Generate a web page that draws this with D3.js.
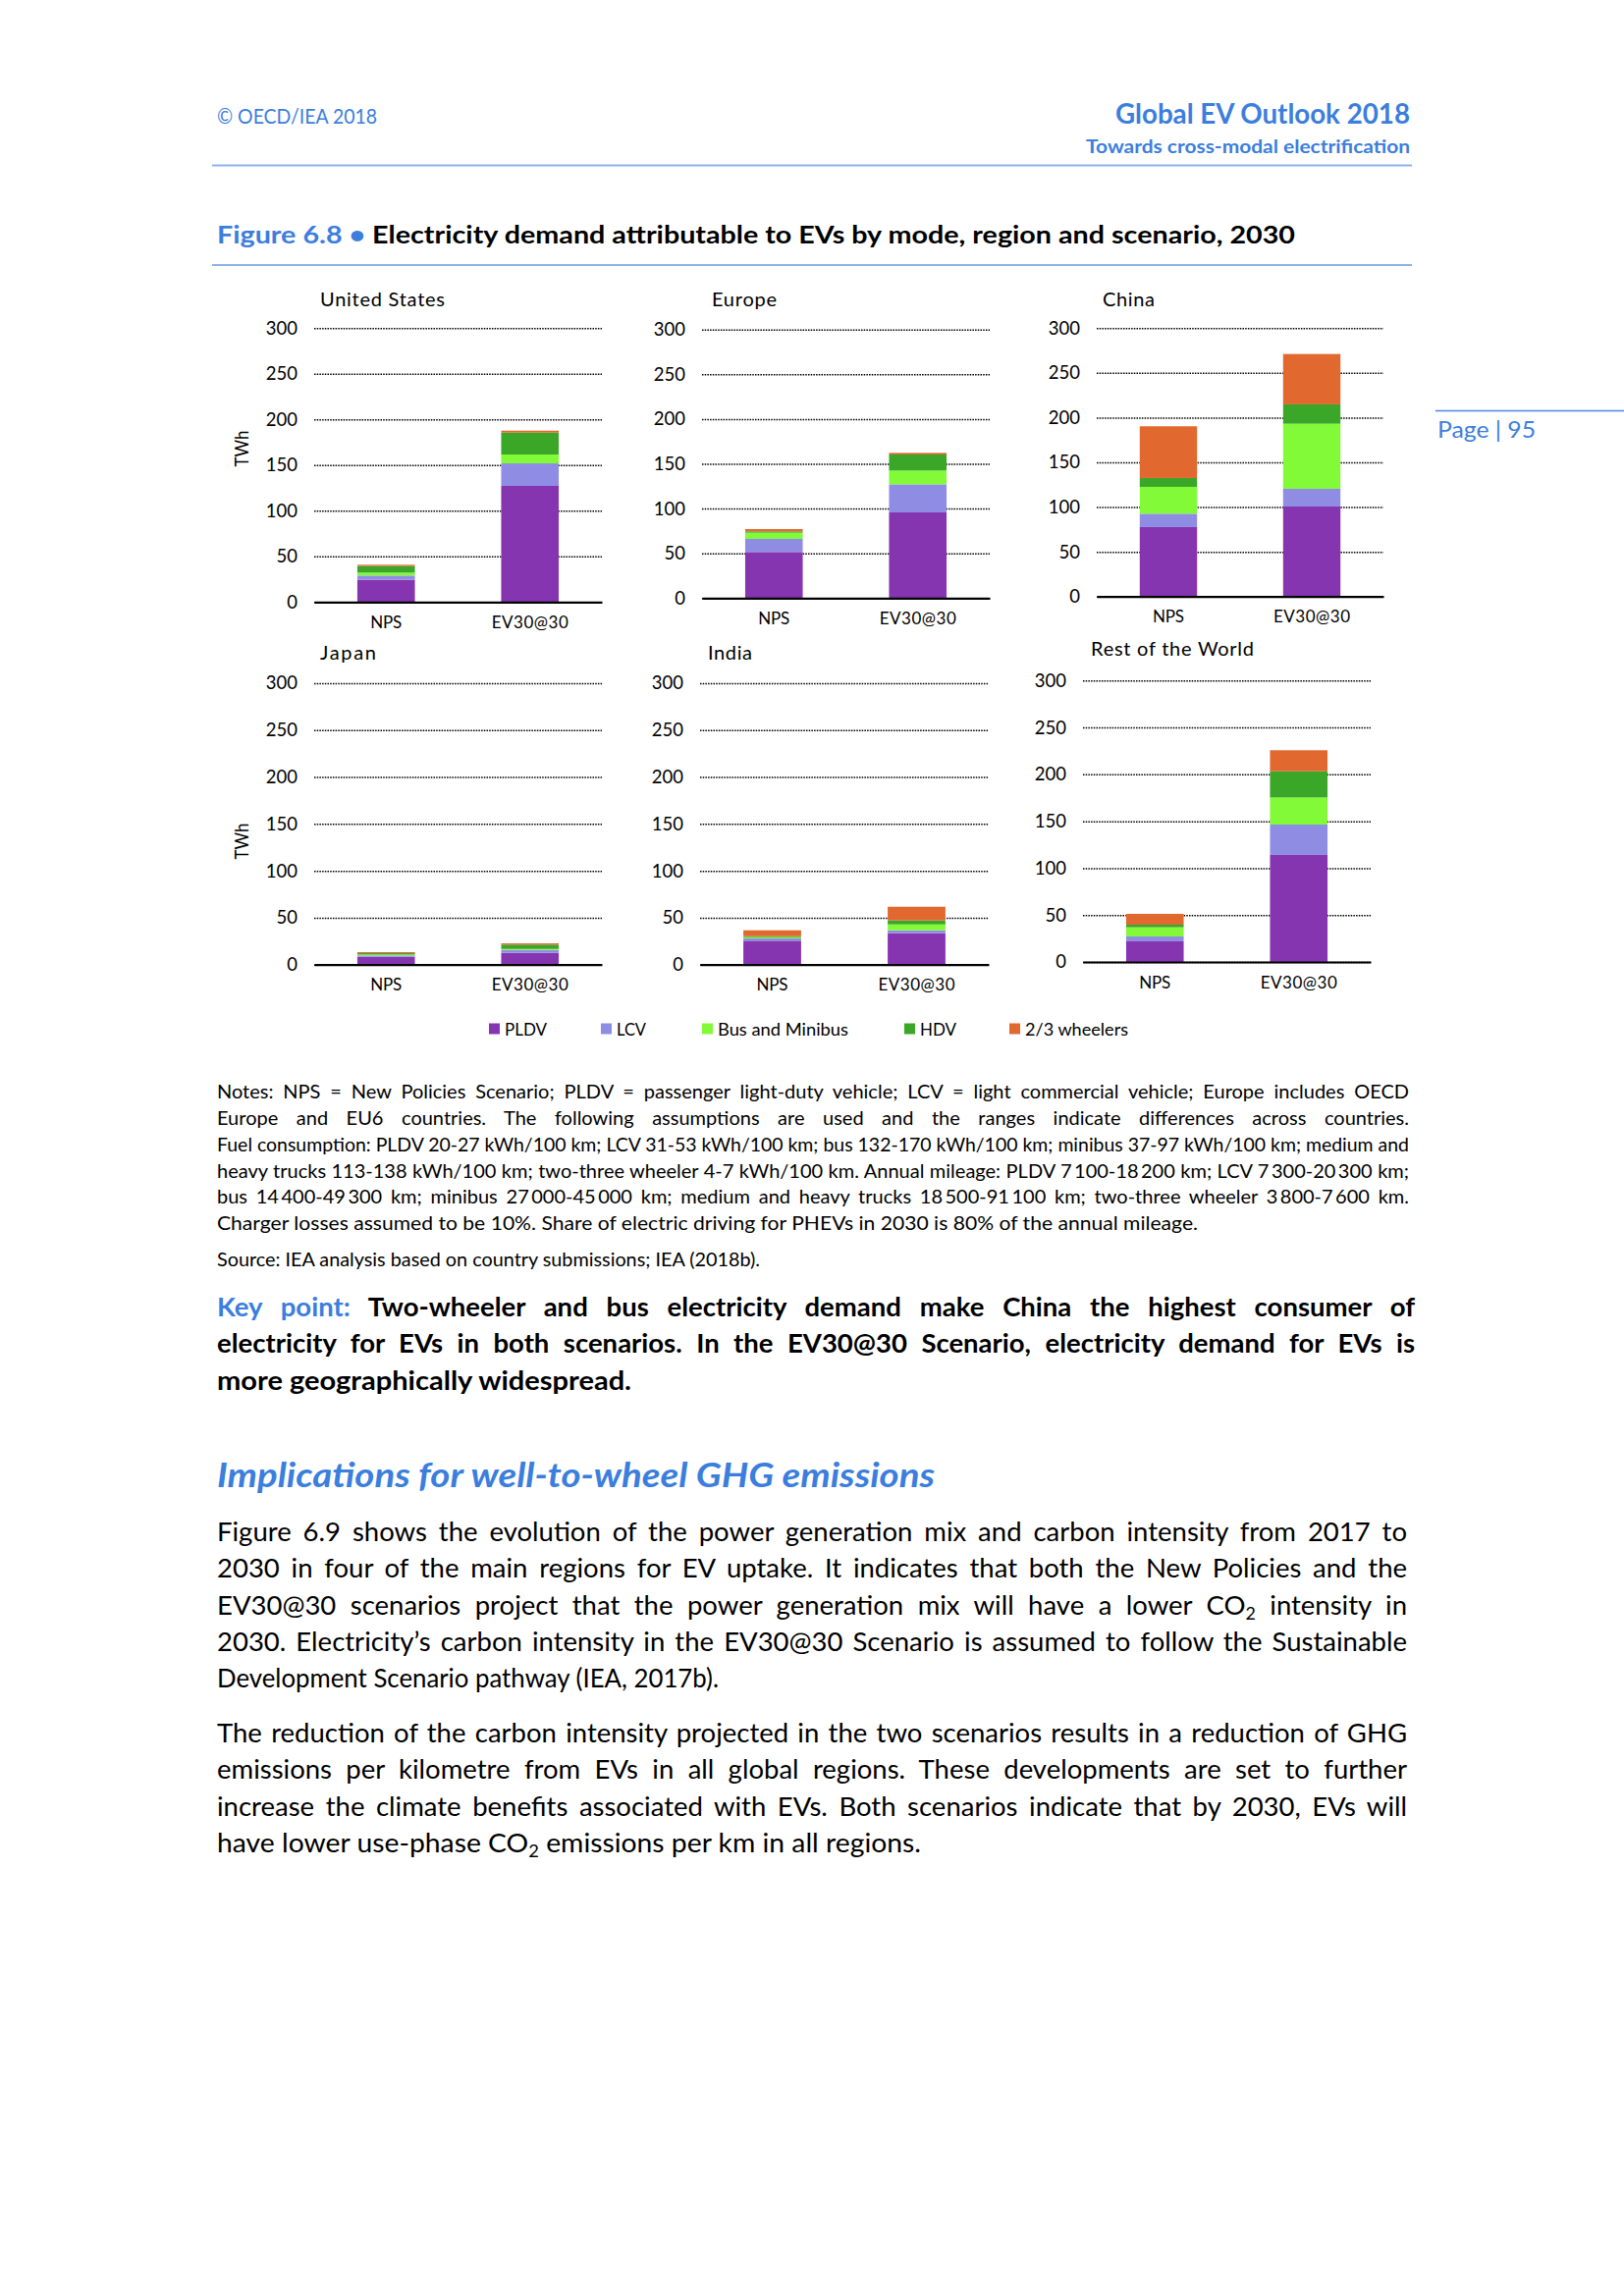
<!DOCTYPE html>
<html><head><meta charset="utf-8">
<script src="https://cdn.jsdelivr.net/npm/d3@7"></script>
<style>
html,body{margin:0;padding:0;background:#fff;}
svg{display:block;}
text{font-family:Lato,'Open Sans','Noto Sans',sans-serif;}
</style></head><body>
<svg id="page" width="1654" height="2339"></svg>
<script>
// ---------------- DATA ----------------
const regions = ["United States","Europe","China","Japan","India","Rest of the World"];
const scenarios = ["NPS","EV30@30"];
const modes = ["PLDV","LCV","Bus and Minibus","HDV","2/3 wheelers"];
const yTicks = [0,50,100,150,200,250,300];
// values in TWh, ordered region by region: [NPS, EV30@30] for each region above
const pldv     = [24.4,127.2, 51.5,95.7, 77.6,100.6, 8.4,12.6, 25.5,33.5, 22.0,114.1];
const lcv      = [4.6,24.7,   14.6,31.4, 15.0,19.8,  1.4,3.1,  2.4,3.1,   5.2,32.4];
const bus      = [3.2,9.7,    7.0,15.4,  30.0,72.8,  1.0,1.0,  1.4,6.3,   9.8,28.9];
const hdv      = [7.2,24.0,   1.4,17.9,  9.9,21.6,   1.4,4.6,  1.0,4.2,   2.8,27.9];
const wheelers = [1.4,2.1,    2.6,1.8,   57.8,56.3,  1.1,1.4,  6.3,14.6,  11.5,22.4];
const seriesValues = [pldv, lcv, bus, hdv, wheelers];
const modeColors = ["#8535B0","#8F8DE3","#82FA38","#3AA728","#E1682F"];
const yLabel = "TWh";

const headerLeft = "© OECD/IEA 2018";
const headerRight1 = "Global EV Outlook 2018";
const headerRight2 = "Towards cross-modal electrification";
const pageLabel = "Page | 95";
const figNum = "Figure 6.8 • ";
const figTitle = "Electricity demand attributable to EVs by mode, region and scenario, 2030";

const notesLines = [
 "Notes: NPS = New Policies Scenario; PLDV = passenger light-duty vehicle; LCV = light commercial vehicle; Europe includes OECD",
 "Europe and EU6 countries. The following assumptions are used and the ranges indicate differences across countries.",
 "Fuel consumption: PLDV 20-27 kWh/100 km; LCV 31-53 kWh/100 km; bus 132-170 kWh/100 km; minibus 37-97 kWh/100 km; medium and",
 "heavy trucks 113-138 kWh/100 km; two-three wheeler 4-7 kWh/100 km. Annual mileage: PLDV 7\u2009100-18\u2009200 km; LCV 7\u2009300-20\u2009300 km;",
 "bus 14\u2009400-49\u2009300 km; minibus 27\u2009000-45\u2009000 km; medium and heavy trucks 18\u2009500-91\u2009100 km; two-three wheeler 3\u2009800-7\u2009600 km.",
 "Charger losses assumed to be 10%. Share of electric driving for PHEVs in 2030 is 80% of the annual mileage."
];
const sourceLine = "Source: IEA analysis based on country submissions; IEA (2018b).";
const keyPrefix = "Key point: ";
const keyLines = [
 "Two-wheeler and bus electricity demand make China the highest consumer of",
 "electricity for EVs in both scenarios. In the EV30@30 Scenario, electricity demand for EVs is",
 "more geographically widespread."
];
const heading = "Implications for well-to-wheel GHG emissions";
const para1 = [
 "Figure 6.9 shows the evolution of the power generation mix and carbon intensity from 2017 to",
 "2030 in four of the main regions for EV uptake. It indicates that both the New Policies and the",
 "EV30@30 scenarios project that the power generation mix will have a lower CO₂ intensity in",
 "2030. Electricity’s carbon intensity in the EV30@30 Scenario is assumed to follow the Sustainable",
 "Development Scenario pathway (IEA, 2017b)."
];
const para2 = [
 "The reduction of the carbon intensity projected in the two scenarios results in a reduction of GHG",
 "emissions per kilometre from EVs in all global regions. These developments are set to further",
 "increase the climate benefits associated with EVs. Both scenarios indicate that by 2030, EVs will",
 "have lower use-phase CO₂ emissions per km in all regions."
];

// ---------------- LAYOUT ----------------
const BLUE = "#3B7EDD";
const RULE = "#8CB2EA";
const svg = d3.select("#page");

function fit(sel, w, adj){ sel.attr("textLength", w).attr("lengthAdjust", adj || "spacingAndGlyphs"); return sel; }
function justify(sel, w){
  const node = sel.node();
  const nat = node.getComputedTextLength();
  const nsp = (node.textContent.match(/ /g) || []).length;
  if (nat < w && nsp > 0) sel.style("word-spacing", ((w - nat) / nsp) + "px");
  else fit(sel, w);
}
function addLine(x, y, str, size, opt){
  opt = opt || {};
  const t = svg.append("text").attr("x", x).attr("y", y)
    .style("font-size", size + "px").attr("fill", opt.fill || "#000");
  if (opt.weight) t.style("font-weight", opt.weight);
  if (opt.italic) t.style("font-style", "italic");
  if (opt.prefix) t.append("tspan").attr("fill", BLUE).text(opt.prefix);
  const parts = str.split("₂");
  parts.forEach((p, i) => {
    if (i > 0) t.append("tspan").attr("dy", size * 0.2).style("font-size", (size * 0.65) + "px").text("2");
    const ts = t.append("tspan").text(p);
    if (i > 0) ts.attr("dy", -size * 0.2);
  });
  if (opt.justify) justify(t, opt.width);
  else if (opt.width) fit(t, opt.width);
  return t;
}

// Header
fit(svg.append("text").attr("x", 221).attr("y", 126).attr("fill", BLUE)
  .style("font-size", "21px").text(headerLeft), 163);
fit(svg.append("text").attr("x", 1436).attr("y", 126).attr("text-anchor", "end").attr("fill", BLUE)
  .style("font-size", "28px").style("font-weight", 700).text(headerRight1), 300);
fit(svg.append("text").attr("x", 1436).attr("y", 156).attr("text-anchor", "end").attr("fill", BLUE)
  .style("font-size", "19px").style("font-weight", 700).text(headerRight2), 330);
svg.append("line").attr("x1", 216).attr("x2", 1438).attr("y1", 168.5).attr("y2", 168.5)
  .attr("stroke", RULE).attr("stroke-width", 2);

// Page marker
svg.append("line").attr("x1", 1462).attr("x2", 1654).attr("y1", 418.5).attr("y2", 418.5)
  .attr("stroke", "#4A86E0").attr("stroke-width", 1.6);
fit(svg.append("text").attr("x", 1464).attr("y", 446).attr("fill", BLUE)
  .style("font-size", "23px").text(pageLabel), 100);

// Figure title
{
  const t = svg.append("text").attr("x", 221).attr("y", 248)
    .style("font-size", "25px").style("font-weight", 700);
  t.append("tspan").attr("fill", BLUE).text(figNum);
  t.append("tspan").attr("fill", "#000").text(figTitle);
  fit(t, 1098);
}
svg.append("line").attr("x1", 216).attr("x2", 1438).attr("y1", 270).attr("y2", 270)
  .attr("stroke", RULE).attr("stroke-width", 2);

// Panels
const panels = [
  {gx0:320,  gx1:613,  y0:613.3, y300:334.3, tx:326,  ty:312, tw:127, twh:[245,457]},
  {gx0:715,  gx1:1008, y0:609.3, y300:335.7, tx:725,  ty:312, tw:66},
  {gx0:1117, gx1:1409, y0:607.7, y300:334.3, tx:1123, ty:312, tw:53},
  {gx0:320,  gx1:613,  y0:982.7, y300:696,   tx:326,  ty:672, tw:57, twh:[245,857]},
  {gx0:713,  gx1:1007, y0:982.7, y300:696,   tx:721,  ty:672, tw:45},
  {gx0:1103, gx1:1396, y0:980,   y300:693.3, tx:1111, ty:668, tw:166}
];
const xLabelWidths = {"NPS":32, "EV30@30":78};

regions.forEach((region, i) => {
  const P = panels[i];
  const g = svg.append("g");
  const x = d3.scaleBand().domain(scenarios).range([P.gx0, P.gx1]).paddingInner(0.6).paddingOuter(0.3);
  const y = d3.scaleLinear().domain([0, 300]).range([P.y0, P.y300]);

  const records = scenarios.map((s, j) => {
    const r = {scenario: s};
    modes.forEach((m, k) => { r[m] = seriesValues[k][i * 2 + j]; });
    return r;
  });
  const stacked = d3.stack().keys(modes)(records);

  // y axis + dotted gridlines
  const ya = g.append("g").attr("transform", `translate(${P.gx0},0)`)
    .call(d3.axisLeft(y).tickValues(yTicks).tickSize(-(P.gx1 - P.gx0)).tickPadding(17));
  ya.select(".domain").remove();
  ya.selectAll(".tick line").attr("stroke", "#000").attr("stroke-width", 1.5)
    .attr("stroke-dasharray", "1.5,1.2");
  ya.selectAll(".tick text").attr("fill", "#000").style("font-size", "18.5px")
    .style("font-family", "Lato,'Open Sans',sans-serif");

  // bars
  g.append("g").selectAll("g").data(stacked).join("g")
    .attr("fill", (d, k) => modeColors[k])
    .selectAll("rect").data(d => d).join("rect")
    .attr("x", d => x(d.data.scenario))
    .attr("width", x.bandwidth())
    .attr("y", d => y(d[1]))
    .attr("height", d => Math.max(0, y(d[0]) - y(d[1])));

  // x axis
  const xa = g.append("g").attr("transform", `translate(0,${P.y0})`)
    .call(d3.axisBottom(x).tickSize(0).tickSizeOuter(0));
  xa.select(".domain").attr("stroke", "#000").attr("stroke-width", 2.2);
  xa.selectAll(".tick text").attr("y", 26.5).attr("dy", null).attr("fill", "#000")
    .style("font-size", "17px").style("font-family", "Lato,'Open Sans',sans-serif")
    .each(function(d){ fit(d3.select(this), xLabelWidths[d], "spacing"); });

  // panel title
  fit(g.append("text").attr("x", P.tx).attr("y", P.ty).attr("fill", "#000")
    .style("font-size", "20px").text(region), P.tw, "spacing");

  if (P.twh) {
    fit(g.append("text").attr("transform", `translate(${P.twh[0]},${P.twh[1]}) rotate(-90)`)
      .attr("text-anchor", "middle").attr("dominant-baseline", "central").attr("fill", "#000")
      .style("font-size", "19px").text(yLabel), 37);
  }
});

// Legend
const legendPos = [[498,514,43],[612,628,30],[715,731,133],[921,937,37],[1028,1044,105]];
const lg = svg.append("g");
modes.forEach((m, k) => {
  const L = legendPos[k];
  lg.append("rect").attr("x", L[0]).attr("y", 1042.5).attr("width", 11).attr("height", 11)
    .attr("fill", modeColors[k]);
  fit(lg.append("text").attr("x", L[1]).attr("y", 1054.5).attr("fill", "#000")
    .style("font-size", "17px").text(m), L[2]);
});

// Notes
const COLW = 1214;
notesLines.forEach((s, k) => {
  const last = k === notesLines.length - 1;
  addLine(221, 1119 + k * 26.85, s, 20, last ? {width: 999} : {justify: true, width: COLW});
});
addLine(221, 1290, sourceLine, 20, {width: 553});

// Key point
keyLines.forEach((s, k) => {
  const o = {weight: 700};
  if (k === 0) o.prefix = keyPrefix;
  if (k < 2) { o.justify = true; o.width = 1220; } else { o.width = 422; }
  addLine(221, 1341 + k * 37.3, s, 27.5, o);
});

// Heading
addLine(221, 1515, heading, 34, {weight: 700, italic: true, fill: BLUE, width: 731});

// Body paragraphs
para1.forEach((s, k) => {
  const last = k === para1.length - 1;
  addLine(221, 1570 + k * 37.3, s, 27.5, last ? {width: 511} : {justify: true, width: 1212});
});
para2.forEach((s, k) => {
  const last = k === para2.length - 1;
  addLine(221, 1775 + k * 37.3, s, 27.5, last ? {width: 717} : {justify: true, width: 1212});
});
</script>
</body></html>
